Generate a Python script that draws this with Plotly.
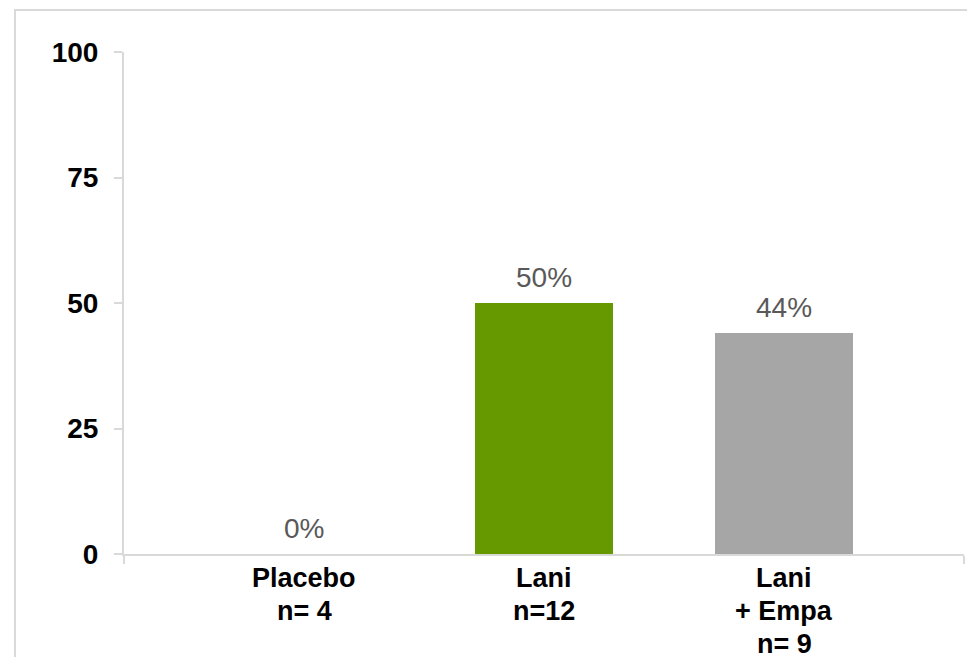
import plotly.graph_objects as go

# chart data
groups = ["Placebo<br>n= 4", "Lani<br>n=12", "Lani<br>+ Empa<br>n= 9"]
positions = [0, 1, 2]
values = [0, 50, 44]
bar_colors = ["#669900", "#669900", "#a6a6a6"]
y_ticks = [0, 25, 50, 75, 100]

AXIS_GREY = "#d9d9d9"
FONT = "Arial, Liberation Sans, sans-serif"
FS = 28
LINE_GAP = 33  # tighter line spacing than plotly's default <br>

fig = go.Figure()

fig.add_trace(go.Bar(
    x=positions,
    y=values,
    width=0.575,
    marker=dict(color=bar_colors, line=dict(width=0)),
    hoverinfo="skip",
))

# value labels above the bars
for xp, v in zip(positions, values):
    fig.add_annotation(
        x=xp, y=v, xref="x", yref="y",
        text=f"{v}%", showarrow=False,
        yanchor="bottom", yshift=8,
        font=dict(family=FONT, size=FS, color="#595959"),
    )

# category labels, one annotation per line
for xp, g in zip(positions, groups):
    for i, line in enumerate(g.split("<br>")):
        fig.add_annotation(
            x=xp, y=0, xref="x", yref="paper",
            text=f"<b>{line}</b>", showarrow=False,
            yanchor="middle", yshift=-(24 + i * LINE_GAP),
            font=dict(family=FONT, size=27, color="black"),
        )

# page body adds an 8px offset, so margins are 8px smaller than the target
fig.update_layout(
    width=975,
    height=657,
    margin=dict(l=116, r=19, t=44, b=111),
    paper_bgcolor="white",
    plot_bgcolor="white",
    showlegend=False,
    font=dict(family=FONT, size=FS, color="black"),
    xaxis=dict(
        range=[-0.75, 2.75],
        tickmode="array",
        tickvals=positions,
        showticklabels=False,
        ticks="",
        showgrid=False,
        zeroline=False,
        showline=True,
        linecolor=AXIS_GREY,
        linewidth=2,
        automargin=False,
        minor=dict(tickmode="array", tickvals=[-0.75, 2.75], ticks="outside",
                   ticklen=8, tickwidth=2, tickcolor=AXIS_GREY, showgrid=False),
    ),
    yaxis=dict(
        range=[0, 100],
        tickmode="array",
        tickvals=y_ticks,
        ticktext=[f"<b>{t}</b>" for t in y_ticks],
        ticks="outside",
        ticklen=8,
        tickwidth=2,
        tickcolor=AXIS_GREY,
        ticklabelstandoff=10,
        showgrid=False,
        zeroline=False,
        showline=True,
        linecolor=AXIS_GREY,
        linewidth=2,
        automargin=False,
        tickfont=dict(family=FONT, size=FS, color="black"),
    ),
)

# light grey frame around the chart area (runs off the right/bottom edge)
fig.add_shape(
    type="rect", xref="paper", yref="paper",
    x0=-0.1298, x1=1.2, y0=-0.4, y1=1.0837,
    line=dict(color=AXIS_GREY, width=2),
    fillcolor="rgba(0,0,0,0)",
    layer="below",
)

fig.write_html("out.html")
